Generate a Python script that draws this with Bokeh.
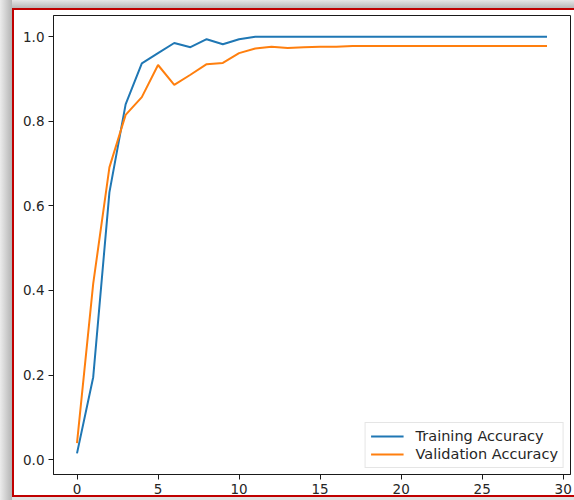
from bokeh.plotting import figure
from bokeh.models import FixedTicker, Range1d, Legend, LegendItem
from bokeh.embed import file_html
from bokeh.resources import INLINE

epochs = list(range(30))
training_accuracy = [0.015, 0.195, 0.632, 0.840, 0.937, 0.961, 0.985, 0.975, 0.994, 0.982,
                     0.994, 1.0, 1.0, 1.0, 1.0, 1.0, 1.0, 1.0, 1.0, 1.0,
                     1.0, 1.0, 1.0, 1.0, 1.0, 1.0, 1.0, 1.0, 1.0, 1.0]
validation_accuracy = [0.039, 0.416, 0.691, 0.815, 0.857, 0.933, 0.886, 0.910, 0.935, 0.938,
                       0.961, 0.972, 0.976, 0.973, 0.975, 0.976, 0.976, 0.978, 0.978, 0.978,
                       0.978, 0.978, 0.978, 0.978, 0.978, 0.978, 0.978, 0.978, 0.978, 0.978]
x_ticks = [0, 5, 10, 15, 20, 25, 30]
y_ticks = [0.0, 0.2, 0.4, 0.6, 0.8, 1.0]
y_tick_labels = ["0.0", "0.2", "0.4", "0.6", "0.8", "1.0"]
series_names = ["Training Accuracy", "Validation Accuracy"]

FONT = "DejaVu Sans"

p = figure(frame_width=517, frame_height=459,
           min_border_left=53, min_border_right=4, min_border_top=15, min_border_bottom=26,
           output_backend="svg", toolbar_location=None,
           x_range=Range1d(-1.45, 30.45), y_range=Range1d(-0.035, 1.05))

p.background_fill_color = "white"
p.border_fill_color = None
p.outline_line_color = "#1a1a1a"
p.outline_line_width = 1
p.xgrid.visible = False
p.ygrid.visible = False

# screenshot-like red frame with grey shadow around the picture
red = "linear-gradient(#c00000,#c00000)"
p.styles = {
    "background": ", ".join([
        red + " 12px 8px / 562px 2px no-repeat",
        red + " 12px 8px / 2px 489px no-repeat",
        red + " 12px 495px / 562px 2px no-repeat",
        "linear-gradient(#ffffff,#ffffff) 14px 10px / 560px 485px no-repeat",
        "linear-gradient(to right, #ececec, #b4b4b4) 0px 0px / 12px 500px no-repeat",
        "linear-gradient(to bottom, #e6e6e6, #b8b8b8) 0px 0px / 574px 8px no-repeat",
        "#e2e2e2",
    ]),
}

for ax in (p.xaxis[0], p.yaxis[0]):
    ax.axis_line_color = "#1a1a1a"
    ax.major_tick_line_color = "#1a1a1a"
    ax.major_tick_out = 5
    ax.major_tick_in = 0
    ax.minor_tick_line_color = None
    ax.major_label_text_font = FONT
    ax.major_label_text_font_size = "13.5px"
    ax.major_label_text_color = "#262626"
    ax.major_label_standoff = 4

p.xaxis.ticker = FixedTicker(ticks=x_ticks)
p.yaxis.ticker = FixedTicker(ticks=y_ticks)
p.yaxis.major_label_overrides = {t: l for t, l in zip(y_ticks, y_tick_labels)}

r1 = p.line(epochs, training_accuracy, line_color="#1f77b4", line_width=2)
r2 = p.line(epochs, validation_accuracy, line_color="#ff7f0e", line_width=2)

legend = Legend(items=[LegendItem(label=series_names[0], renderers=[r1]),
                       LegendItem(label=series_names[1], renderers=[r2])],
                location="bottom_right", margin=6, padding=5, spacing=2,
                glyph_width=33, glyph_height=16, label_height=16, label_standoff=12,
                label_text_font=FONT, label_text_font_size="14.5px", label_text_color="#262626",
                border_line_color="#cccccc", border_line_width=1,
                background_fill_color="white", background_fill_alpha=0.8)
p.add_layout(legend)

open("out.html", "w").write(file_html(p, INLINE))
